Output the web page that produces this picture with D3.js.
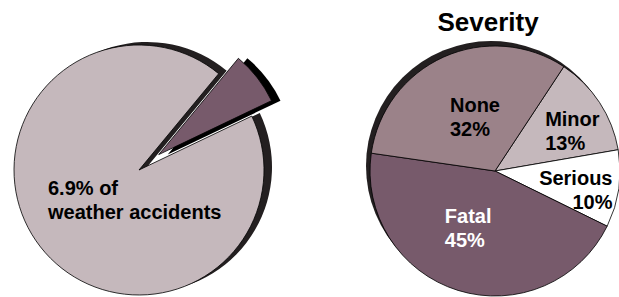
<!DOCTYPE html>
<html>
<head>
<meta charset="utf-8">
<script src="https://cdn.jsdelivr.net/npm/d3@7"></script>
<style>
  body { margin: 0; background: #fff; }
  text { font-family: "Liberation Sans", Arial, sans-serif; font-weight: bold; }
</style>
</head>
<body>
<div id="chart"></div>
<script>
// share of all accidents that were weather accidents
var shareNames = ["Weather", "Other"];
var shareValues = [6.9, 93.1];
var shareText = ["6.9% of", "weather accidents"];

// severity of the weather accidents
var severityNames = ["Minor", "Serious", "Fatal", "None"];
var severityValues = [13, 10, 45, 32];
var severityTitle = "Severity";

var width = 619;
var height = 297;
var deg = Math.PI / 180;
var shadowColor = "#231f20";
var lineGap = 24;

var svg = d3.select("#chart")
  .append("svg")
  .attr("width", width)
  .attr("height", height);

//colours
var shareColor = d3.scaleOrdinal().domain(shareNames).range(["#775a6b", "#c5b8bc"]);
var severityColor = d3.scaleOrdinal().domain(severityNames)
  .range(["#c5b8bc", "#ffffff", "#775a6b", "#9b8289"]);
var severityTextColor = d3.scaleOrdinal().domain(severityNames)
  .range(["#000", "#000", "#fff", "#000"]);

//label placement around each slice centroid
var labelLayout = {
  Minor:   {r: 87, turn: 6,  align: "start"},
  Serious: {r: 83, turn: 5,  align: "end"},
  Fatal:   {r: 63, turn: 8,  align: "start"},
  None:    {r: 58, turn: 4,  align: "start"}
};

//LEFT PIE
var left = {cx: 139, cy: 170, r: 125};
var sliceStart = 39.6 * deg;
var pieLeft = d3.pie().sort(null)
  .startAngle(sliceStart)
  .endAngle(sliceStart + 2 * Math.PI);
var arcsLeft = pieLeft(shareValues);
var arcL = d3.arc().innerRadius(0).outerRadius(left.r);

var gl = svg.append("g")
  .attr("transform", "translate(" + left.cx + "," + left.cy + ")");

//shadow of the main part
gl.append("path")
  .attr("d", arcL(arcsLeft[1]))
  .attr("fill", shadowColor)
  .attr("transform", "translate(8,-3)");
gl.append("path")
  .attr("d", arcL(arcsLeft[1]))
  .attr("fill", shareColor(shareNames[1]))
  .attr("stroke", "#000")
  .attr("stroke-width", 0.8);

//exploded slice
var mid = (arcsLeft[0].startAngle + arcsLeft[0].endAngle) / 2;
var ex = 25 * Math.sin(mid);
var ey = -25 * Math.cos(mid);
gl.append("path")
  .attr("d", arcL(arcsLeft[0]))
  .attr("fill", "#000")
  .attr("transform", "translate(" + (ex + 9) + "," + ey + ")");
gl.append("path")
  .attr("d", arcL(arcsLeft[0]))
  .attr("fill", shareColor(shareNames[0]))
  .attr("stroke", "#000")
  .attr("stroke-width", 0.8)
  .attr("transform", "translate(" + ex + "," + ey + ")");

var lt = gl.append("text").attr("font-size", 20).attr("fill", "#000");
shareText.forEach(function(s, i) {
  lt.append("tspan").attr("x", -91).attr("y", 25 + i * lineGap).text(s);
});

//RIGHT PIE
var right = {cx: 495, cy: 171, r: 125};
var rStart = 33.4 * deg;
var pieRight = d3.pie().sort(null)
  .startAngle(rStart)
  .endAngle(rStart + 2 * Math.PI);
var arcsRight = pieRight(severityValues);
var arcR = d3.arc().innerRadius(0).outerRadius(right.r);

var gr = svg.append("g")
  .attr("transform", "translate(" + right.cx + "," + right.cy + ")");

gr.append("circle")
  .attr("r", right.r)
  .attr("cx", -4)
  .attr("cy", -5)
  .attr("fill", shadowColor);

gr.selectAll("path.slice")
  .data(arcsRight)
  .enter().append("path")
  .attr("class", "slice")
  .attr("d", arcR)
  .attr("fill", function(d, i) { return severityColor(severityNames[i]); })
  .attr("stroke", "#000")
  .attr("stroke-width", 0.8);

arcsRight.forEach(function(d, i) {
  var name = severityNames[i];
  var lay = labelLayout[name];
  var a = (d.startAngle + d.endAngle) / 2 + lay.turn * deg;
  var x = lay.r * Math.sin(a);
  var y = -lay.r * Math.cos(a);
  var t = gr.append("text")
    .attr("font-size", 20)
    .attr("fill", severityTextColor(name))
    .attr("text-anchor", lay.align);
  var lines = [name, severityValues[i] + "%"];
  lines.forEach(function(s, k) {
    t.append("tspan").attr("y", y - 5 + k * lineGap).text(s);
  });
  var w = d3.max(t.selectAll("tspan").nodes(), function(n) { return n.getComputedTextLength(); });
  var tx = lay.align === "end" ? x + w / 2 : x - w / 2;
  t.selectAll("tspan").attr("x", tx);
});

svg.append("text")
  .attr("x", right.cx - 7)
  .attr("y", 31)
  .attr("text-anchor", "middle")
  .attr("font-size", 26)
  .text(severityTitle);
</script>
</body>
</html>
